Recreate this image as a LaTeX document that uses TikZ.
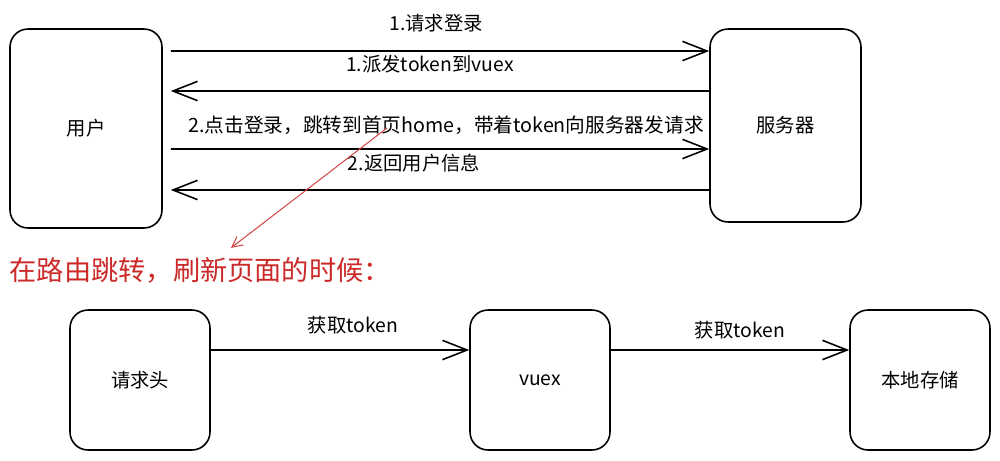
\documentclass[tikz,border=0pt]{standalone}
\usepackage{fontspec}
\setmainfont{Noto Sans CJK SC}
\usetikzlibrary{arrows.meta, positioning}

\definecolor{notered}{RGB}{204,41,41}

\begin{document}
\begin{tikzpicture}[x=0.02cm, y=-0.02cm, font=\fontsize{11}{13}\selectfont,
    >={Straight Barb[length=14pt, width=11pt]}, line width=0.9pt]
        \tikzset{box/.style={draw, rounded corners=0.36cm, minimum width=2.8cm, minimum height=2.8cm}}
        \tikzstyle{msg}=[->]
        \tikzstyle{pointer}=[-{Straight Barb[length=6pt, width=6pt]}, draw=notered!85, line width=0.6pt]
        \useasboundingbox (0,0) rectangle (1000,460);

        \node[box, minimum width=3.04cm, minimum height=3.98cm] (user) at (86,128.5) {用户};
        \node[box, minimum width=3.02cm, minimum height=3.86cm] (server) at (785.5,125.5) {服务器};
        \node[box] (header) at (140,380) {请求头};
        \node[box] (vuex) at (540,380) {vuex};
        \node[box] (local) at (920,380) {本地存储};

        % login round
        \draw[msg, shorten <=0.16cm] ([yshift=1.55cm]user.east) -- ([yshift=1.49cm]server.west)
            node[midway, yshift=0.56cm] {1.请求登录};
        \draw[msg, shorten >=0.16cm] ([yshift=0.69cm]server.west) -- ([yshift=0.75cm]user.east)
            node[midway, yshift=0.54cm, xshift=-0.12cm] {1.派发token到vuex};
        \draw[msg, shorten <=0.16cm] ([yshift=-0.41cm]user.east) -- ([yshift=-0.47cm]server.west)
            node[midway, yshift=0.48cm, xshift=0.2cm, font=\fontsize{11.2}{13}\selectfont] (login) {2.点击登录，跳转到首页home，带着token向服务器发请求};
        \draw[msg, shorten >=0.16cm] ([yshift=-1.29cm]server.west) -- ([yshift=-1.23cm]user.east)
            node[midway, yshift=0.54cm, xshift=-0.44cm] {2.返回用户信息};

        % refresh
        \node[anchor=west, text=notered, font=\fontsize{15.5}{18}\selectfont] (note) at (3,270) {在路由跳转，刷新页面的时候：};
        \coordinate (hit) at (387,128);
        \draw[pointer] (hit) -- ([xshift=4.56cm, yshift=0.05cm]note.north west);

        \draw[msg] ([yshift=0.6cm]header.east) -- ([yshift=0.6cm]vuex.west)
            node[midway, yshift=0.5cm, xshift=0.26cm] {获取token};
        \draw[msg] ([yshift=0.6cm]vuex.east) -- ([yshift=0.6cm]local.west)
            node[midway, yshift=0.4cm, xshift=0.2cm] {获取token};
    \end{tikzpicture}
\end{document}
